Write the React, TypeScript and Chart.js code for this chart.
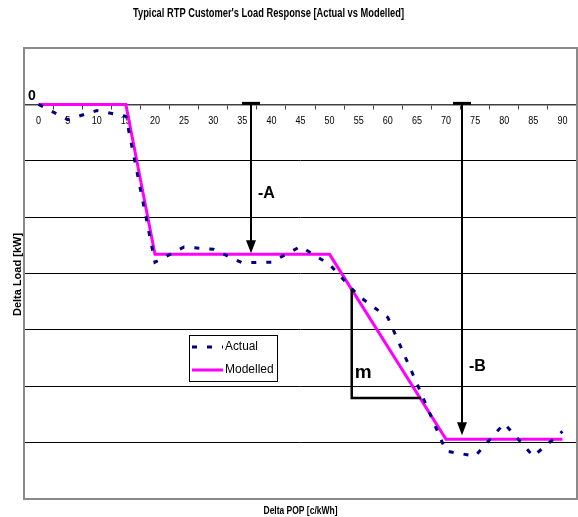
import React, { useEffect, useRef } from "react";
import { Chart, registerables } from "chart.js";

Chart.register(...registerables);

// Price-of-power steps on the horizontal axis (c/kWh)
const popLabels = ["0", "5", "10", "15", "20", "25", "30", "35", "40", "45", "50", "55", "60", "65", "70", "75", "80", "85", "90"];

// Measured change in load at each price step (kW)
const actualLoad = [0, -0.27, -0.11, -0.21, -2.8, -2.53, -2.57, -2.81, -2.8, -2.52, -2.84, -3.4, -3.78, -4.95, -6.15, -6.24, -5.66, -6.24, -5.8];

// Piecewise-linear model, break points only
const modelledPop = ["0", "15", "20", "50", "70", "90"];
const modelledLoad = [0, 0, -2.66, -2.66, -5.94, -5.94];

const loadMin = -7;
const loadMax = 1;

// Step-response arrows and the slope triangle, in chart units (c/kWh, kW)
const stepA = { pop: 36.5, top: 0, tip: -2.64, textLoad: -1.59, text: "-A" };
const stepB = { pop: 72.8, top: 0, tip: -5.87, textLoad: -4.65, text: "-B" };
const slopeM = { popStart: 53.8, popEnd: 65.7, loadTop: -3.28, loadBase: -5.21, textLoad: -4.76, text: "m" };

const titleText = "Typical RTP Customer's Load Response [Actual vs Modelled]";
const xTitleText = "Delta POP [c/kWh]";
const yTitleText = "Delta Load [kW]";
const legendNames = ["Actual", "Modelled"];

const FONT = "'Liberation Sans Narrow', 'Liberation Sans', Arial, sans-serif";
const ACTUAL_COLOR = "#000080";
const MODEL_COLOR = "#ff00ff";

const decorPlugin = {
  id: "loadDecor",
  beforeDatasetsDraw(chart: any) {
    const { ctx, chartArea: a, scales } = chart;
    ctx.save();
    ctx.strokeStyle = "#8a8a8a";
    ctx.lineWidth = 2;
    ctx.strokeRect(a.left, a.top, a.right - a.left, a.bottom - a.top);

    // condensed category labels under the zero axis
    const xs = scales.x;
    const axisY = scales.y.getPixelForValue(0);
    ctx.fillStyle = "#000";
    ctx.font = `11px ${FONT}`;
    ctx.textAlign = "center";
    ctx.textBaseline = "middle";
    popLabels.forEach((lbl, i) => {
      const w = ctx.measureText(lbl).width;
      ctx.fillText(lbl, xs.getPixelForTick(i), axisY + 17, w * 0.82);
    });
    ctx.restore();
  },
  afterDatasetsDraw(chart: any) {
    const { ctx, chartArea: a, scales } = chart;
    const xs = scales.x;
    const ys = scales.y;
    const px = (pop: number) => xs.getPixelForValue(pop / 5);
    const py = (load: number) => ys.getPixelForValue(load);

    ctx.save();
    ctx.fillStyle = "#000";
    ctx.strokeStyle = "#000";

    const drawStep = (s: typeof stepA) => {
      const xp = Math.round(px(s.pop));
      const y0 = py(s.top);
      const y1 = py(s.tip);
      ctx.fillRect(xp - 9, y0 - 2.5, 18, 3);
      ctx.lineWidth = 2;
      ctx.beginPath();
      ctx.moveTo(xp, y0);
      ctx.lineTo(xp, y1 - 12);
      ctx.stroke();
      ctx.beginPath();
      ctx.moveTo(xp - 5, y1 - 13);
      ctx.lineTo(xp + 5, y1 - 13);
      ctx.lineTo(xp, y1);
      ctx.closePath();
      ctx.fill();
      ctx.font = `bold 16px ${FONT}`;
      ctx.textAlign = "left";
      ctx.textBaseline = "middle";
      ctx.fillText(s.text, xp + 7, py(s.textLoad));
    };
    drawStep(stepA);
    drawStep(stepB);

    // slope triangle
    const mx1 = px(slopeM.popStart);
    const mx2 = px(slopeM.popEnd);
    ctx.lineWidth = 2.5;
    ctx.beginPath();
    ctx.moveTo(mx1, py(slopeM.loadTop));
    ctx.lineTo(mx1, py(slopeM.loadBase));
    ctx.lineTo(mx2, py(slopeM.loadBase));
    ctx.stroke();
    ctx.font = `bold 19px ${FONT}`;
    ctx.textAlign = "left";
    ctx.textBaseline = "middle";
    ctx.fillText(slopeM.text, mx1 + 3, py(slopeM.textLoad));

    // zero marker beside the axis origin
    ctx.font = `bold 14px ${FONT}`;
    ctx.textAlign = "center";
    ctx.fillText("0", a.left + 8, py(0) - 8);

    // legend box
    const lx = a.left + 165;
    const ly = a.top + 287;
    ctx.lineWidth = 1;
    ctx.strokeStyle = "#000";
    ctx.strokeRect(lx + 0.5, ly + 0.5, 88, 46);
    ctx.lineWidth = 3;
    ctx.strokeStyle = ACTUAL_COLOR;
    ctx.setLineDash([5, 10]);
    ctx.beginPath();
    ctx.moveTo(lx + 3, ly + 12);
    ctx.lineTo(lx + 34, ly + 12);
    ctx.stroke();
    ctx.setLineDash([]);
    ctx.strokeStyle = MODEL_COLOR;
    ctx.beginPath();
    ctx.moveTo(lx + 3, ly + 35);
    ctx.lineTo(lx + 34, ly + 35);
    ctx.stroke();
    ctx.fillStyle = "#000";
    ctx.font = `12px ${FONT}`;
    ctx.textAlign = "left";
    ctx.fillText(legendNames[0], lx + 36, ly + 12, 33);
    ctx.fillText(legendNames[1], lx + 36, ly + 35, 49);
    ctx.restore();
  },
  afterDraw(chart: any) {
    const { ctx, chartArea: a } = chart;
    ctx.save();
    ctx.fillStyle = "#000";
    ctx.textAlign = "center";
    ctx.textBaseline = "middle";
    ctx.font = `bold 12px ${FONT}`;
    ctx.fillText(titleText, 268.5, 14, 271);
    ctx.font = `bold 11px ${FONT}`;
    ctx.fillText(xTitleText, (a.left + a.right) / 2, 511, 74);
    ctx.translate(18, (a.top + a.bottom) / 2 + 1);
    ctx.rotate(-Math.PI / 2);
    ctx.fillText(yTitleText, 0, 0, 87);
    ctx.restore();
  },
};

export default function App() {
  const ref = useRef<HTMLCanvasElement>(null);

  useEffect(() => {
    const chart = new Chart(ref.current as HTMLCanvasElement, {
      type: "line",
      data: {
        labels: popLabels,
        datasets: [
          {
            label: legendNames[0],
            data: actualLoad,
            borderColor: ACTUAL_COLOR,
            borderWidth: 3,
            borderDash: [5, 10],
            pointRadius: 0,
            tension: 0,
            fill: false,
          },
          {
            label: legendNames[1],
            data: modelledPop.map((p, i) => ({ x: p, y: modelledLoad[i] })) as any,
            borderColor: MODEL_COLOR,
            borderWidth: 3,
            pointRadius: 0,
            tension: 0,
            fill: false,
          },
        ],
      },
      options: {
        responsive: false,
        animation: false,
        devicePixelRatio: 1,
        layout: { padding: { left: 24, top: 48, right: 1, bottom: 18 } },
        plugins: {
          legend: { display: false },
          title: { display: false },
          tooltip: { enabled: false },
        },
        scales: {
          x: {
            type: "category",
            offset: true,
            position: { y: 0 } as any,
            grid: {
              offset: true,
              drawOnChartArea: false,
              drawTicks: true,
              tickLength: 4,
              color: "#404040",
              lineWidth: 1,
            },
            border: { display: true, color: "#404040", width: 1.5 },
            ticks: { display: false, autoSkip: false, maxRotation: 0 },
            afterFit: (s: any) => {
              s.height = 0;
            },
          },
          y: {
            type: "linear",
            min: loadMin,
            max: loadMax,
            ticks: { stepSize: 1, display: false },
            grid: { color: "#000", lineWidth: 1, drawTicks: false },
            border: { display: false },
            afterFit: (s: any) => {
              s.width = 0;
            },
          },
        },
      },
      plugins: [decorPlugin],
    });
    return () => chart.destroy();
  }, []);

  return (
    <div style={{ position: "fixed", left: 0, top: 0, width: 578, height: 517, background: "#fff" }}>
      <canvas ref={ref} width={578} height={517} style={{ display: "block", width: 578, height: 517 }} />
    </div>
  );
}
